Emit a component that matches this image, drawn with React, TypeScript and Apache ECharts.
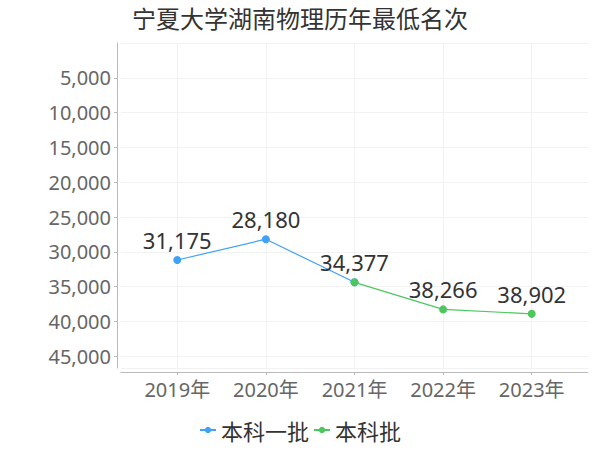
import React, { useEffect, useRef } from "react";
import * as echarts from "echarts";

const title = "宁夏大学湖南物理历年最低名次";
const years = ["2019年", "2020年", "2021年", "2022年", "2023年"];
const seriesNames = ["本科一批", "本科批"];
const batch1Values: (number | null)[] = [31175, 28180, 34377, null, null];
const batchValues: (number | null)[] = [null, null, 34377, 38266, 38902];
const yMax = 46682;
const colors = ["#3fa2f7", "#4cc75d"];

const fmt = (n: number) => n.toLocaleString("en-US");

const toItems = (vals: (number | null)[], hideWhere?: (number | null)[]) =>
  vals
    .map((v, i) => {
      if (v == null) return null;
      const item: any = { value: [i, v] };
      if (hideWhere && hideWhere[i] != null) item.label = { show: false };
      return item;
    })
    .filter((p) => p !== null);

export default function App() {
  const ref = useRef<HTMLDivElement>(null);
  useEffect(() => {
    document.body.style.margin = "0";
    if (!ref.current) return;
    const chart = echarts.init(ref.current, null, { renderer: "svg" });
    const font = "Noto Sans, Noto Sans CJK SC, sans-serif";
    const mkSeries = (name: string, data: any[], color: string) => ({
      name,
      type: "line",
      data,
      symbol: "circle",
      symbolSize: 8,
      itemStyle: { color },
      lineStyle: { color, width: 1.2 },
      label: {
        show: true,
        position: "top",
        distance: 5,
        color: "#333",
        fontSize: 22,
        fontFamily: font,
        formatter: (p: any) => fmt(p.value[1]),
      },
    });
    chart.setOption({
      animation: false,
      backgroundColor: "#fff",
      title: {
        text: title,
        left: "center",
        top: 0,
        textStyle: {
          fontSize: 24,
          fontWeight: "normal",
          color: "#333",
          fontFamily: "Noto Sans CJK SC, sans-serif",
        },
      },
      legend: {
        bottom: 4,
        left: "center",
        itemGap: 4,
        itemWidth: 16,
        itemHeight: 8,
        textStyle: {
          fontSize: 22,
          color: "#333",
          fontFamily: "Noto Sans CJK SC, sans-serif",
        },
        data: seriesNames,
      },
      grid: { left: 121, right: 12, top: 43, bottom: 82 },
      xAxis: {
        type: "value",
        min: -0.635,
        max: 4.635,
        interval: 1,
        offset: 4,
        axisLine: { show: true, onZero: false, lineStyle: { color: "#bbb" } },
        axisTick: { show: true, length: 3, lineStyle: { color: "#bbb" }, customValues: [0, 1, 2, 3, 4] },
        axisLabel: {
          color: "#666",
          fontSize: 20,
          fontFamily: font,
          margin: 7,
          customValues: [0, 1, 2, 3, 4],
          formatter: (v: number) => years[Math.round(v)] ?? "",
        },
        splitLine: { show: true, lineStyle: { color: "#f2f2f2" } },
      },
      yAxis: {
        type: "value",
        inverse: true,
        min: 0,
        max: yMax,
        interval: 5000,
        offset: 4,
        axisLine: { show: true, onZero: false, lineStyle: { color: "#bbb" } },
        axisTick: { show: true, length: 3, lineStyle: { color: "#bbb" } },
        axisLabel: {
          color: "#666",
          fontSize: 20,
          fontFamily: font,
          margin: 6,
          showMinLabel: false,
          showMaxLabel: false,
          formatter: (v: number) => fmt(v),
        },
        splitLine: { show: true, lineStyle: { color: "#f2f2f2" } },
      },
      series: [
        mkSeries(seriesNames[0], toItems(batch1Values, batchValues), colors[0]),
        mkSeries(seriesNames[1], toItems(batchValues), colors[1]),
      ],
    });
    return () => chart.dispose();
  }, []);
  return <div ref={ref} style={{ width: 600, height: 450 }} />;
}
